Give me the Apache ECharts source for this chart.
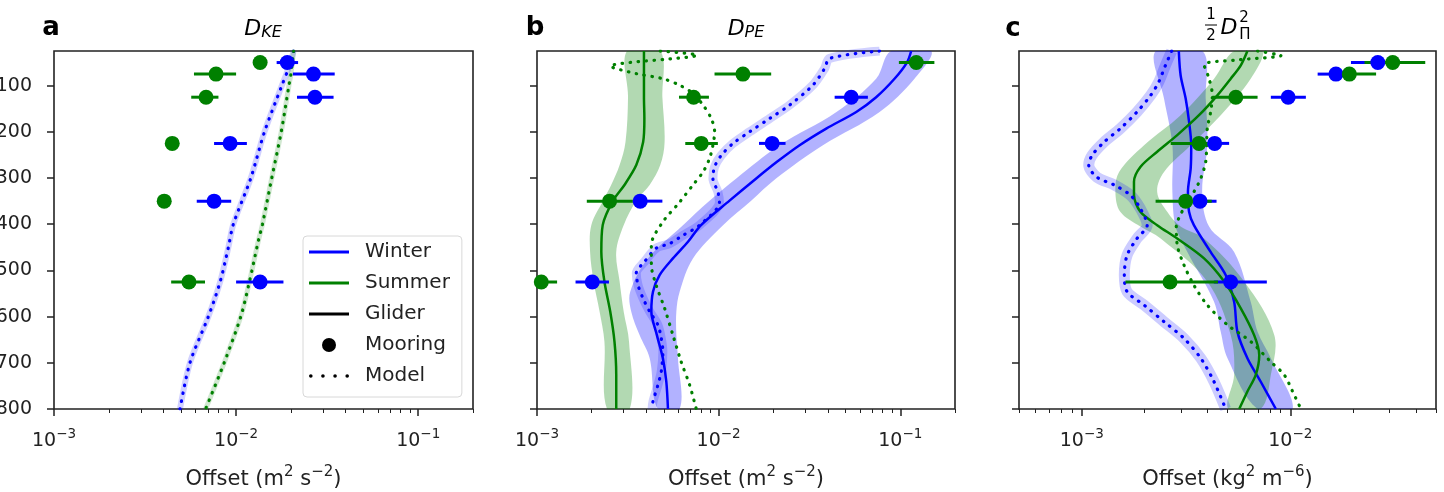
<!DOCTYPE html>
<html>
<head>
<meta charset="utf-8">
<title>Offset profiles</title>
<script src="https://cdn.jsdelivr.net/npm/echarts@6/dist/echarts.min.js"></script>
<style>
    html, body { margin: 0; background: #fff; }
    #main { width: 1444px; height: 492px; }
</style>
</head>
<body>
<div id="main"></div>
<script type="text/javascript">
var BLUE = '#0000ff', GREEN = '#008000', INK = '#222';
var FONT = 'DejaVu Sans';

// axes
var depthTicks = [100, 200, 300, 400, 500, 600, 700, 800];
var majorTicksAB = [0.001, 0.01, 0.1];
var minorTicksAB = [0.002, 0.003, 0.004, 0.005, 0.006, 0.007, 0.008, 0.009,
                    0.02, 0.03, 0.04, 0.05, 0.06, 0.07, 0.08, 0.09, 0.2];
var majorTicksC = [0.001, 0.01];
var minorTicksC = [0.0005, 0.0006, 0.0007, 0.0008, 0.0009,
                   0.002, 0.003, 0.004, 0.005, 0.006, 0.007, 0.008, 0.009,
                   0.02, 0.03, 0.04, 0.05];
var axisNames = ['Offset (m{sup|2} s{sup|\u22122})', 'Offset (m{sup|2} s{sup|\u22122})', 'Offset (kg{sup|2} m{sup|\u22126})'];
var legendNames = ['Winter', 'Summer', 'Glider', 'Mooring', 'Model'];

// mooring depths (m)
var mooringDepth = [50, 75, 125, 225, 350, 525];

// ---- panel a : D_KE ----
var aWinterMooring   = [0.0191, 0.0266, 0.0271, 0.00927, 0.00757, 0.01355];
var aWinterMooringLo = [0.0167, 0.0205, 0.0216, 0.00757, 0.00608, 0.0100];
var aWinterMooringHi = [0.0219, 0.0348, 0.0343, 0.01146, 0.0094, 0.0182];
var aSummerMooring   = [0.01355, 0.00776, 0.00684, 0.00446, 0.00403, 0.00551];
var aSummerMooringLo = [0.0133, 0.00587, 0.00567, 0.0044, 0.00398, 0.0044];
var aSummerMooringHi = [0.0138, 0.0100, 0.0080, 0.00452, 0.00408, 0.00675];
var aWinterModelDepth = [25, 60, 100, 200, 300, 400, 450, 525, 600, 700, 800];
var aWinterModel      = [0.0207, 0.0195, 0.01783, 0.01432, 0.01205, 0.00966, 0.00907, 0.00817, 0.00704, 0.00558, 0.00492];
var aSummerModelDepth = [25, 75, 100, 200, 300, 400, 435, 525, 600, 700, 800];
var aSummerModel      = [0.0207, 0.0200, 0.0195, 0.0177, 0.0157, 0.01396, 0.01327, 0.01183, 0.01061, 0.0086, 0.0068];

// ---- panel b : D_PE ----
var bWinterMooringDepth = [125, 225, 350, 525];
var bWinterMooring   = [0.0537, 0.0197, 0.0037, 0.002015];
var bWinterMooringLo = [0.0435, 0.01667, 0.00337, 0.00163];
var bWinterMooringHi = [0.0663, 0.02335, 0.0049, 0.00249];
var bSummerMooring   = [0.1224, 0.0136, 0.00728, 0.00802, 0.00251, 0.001056];
var bSummerMooringLo = [0.0982, 0.00949, 0.00605, 0.00655, 0.00188, 0.00085];
var bSummerMooringHi = [0.154, 0.01946, 0.00884, 0.0099, 0.00337, 0.00129];
var bWinterGliderDepth = [25, 50, 85, 125, 157, 193, 229, 265, 301, 349, 402, 438, 474, 510, 546, 589, 640, 690, 741, 800];
var bWinterGlider      = [0.1148, 0.1087, 0.0929, 0.0736, 0.0572, 0.0391, 0.0279, 0.02094, 0.0161, 0.01148, 0.0080,
                          0.00678, 0.0056, 0.00473, 0.00435, 0.00426, 0.00457, 0.00493, 0.00515, 0.00526];
var bWinterBandDepth = [25, 85, 157, 229, 301, 349, 402, 474, 546, 589, 640, 690, 800];
var bWinterBandLo    = [0.0891, 0.0736, 0.0445, 0.0216, 0.0125, 0.00891, 0.00636, 0.00408, 0.00326, 0.0033, 0.00367, 0.00417, 0.00463];
var bWinterBandHi    = [0.148, 0.1197, 0.0769, 0.0375, 0.0207, 0.0151, 0.01057, 0.00722, 0.0061, 0.00585, 0.00585, 0.00597, 0.0061];
var bSummerGliderDepth = [25, 75, 125, 171, 222, 272, 315, 349, 402, 460, 524, 589, 654, 726, 800];
var bSummerGlider      = [0.00388, 0.00388, 0.00388, 0.0039, 0.00384, 0.00352, 0.00303, 0.00262, 0.0023, 0.00226,
                          0.00235, 0.00253, 0.00267, 0.00273, 0.00273];
var bSummerBandDepth = [25, 125, 222, 272, 315, 349, 402, 460, 524, 589, 654, 800];
var bSummerBandLo    = [0.00313, 0.00317, 0.00307, 0.00285, 0.00256, 0.00231, 0.00199, 0.00196, 0.00205, 0.00221, 0.00235, 0.00243];
var bSummerBandHi    = [0.00477, 0.0049, 0.00504, 0.00477, 0.00417, 0.00352, 0.003, 0.00273, 0.00285, 0.003, 0.00321, 0.00324];
var bWinterModelDepth = [25, 41, 63, 99, 142, 171, 200, 225, 251, 276, 301, 330, 352, 402, 424, 442, 452, 481, 506,
                         532, 560, 589, 618, 647, 676, 719, 748, 784, 800];
var bWinterModel      = [0.0769, 0.0408, 0.0383, 0.033, 0.0246, 0.0191, 0.0148, 0.012, 0.01033, 0.00949, 0.0093, 0.0099,
                         0.0101, 0.00785, 0.00636, 0.00537, 0.00453, 0.00391, 0.00352, 0.0036, 0.00383, 0.00417, 0.00463,
                         0.00483, 0.00493, 0.00483, 0.00463, 0.00435, 0.0043];
var bSummerModelDepth = [25, 34, 58, 74, 85, 99, 117, 142, 171, 200, 229, 258, 287, 315, 352, 395, 445, 488, 532, 582,
                         640, 698, 748, 800];
var bSummerModel      = [0.00477, 0.0076, 0.00253, 0.00352, 0.00493, 0.0061, 0.00722, 0.0082, 0.0091, 0.0095, 0.0093,
                         0.0089, 0.0082, 0.00722, 0.0061, 0.00493, 0.00426, 0.00426, 0.00453, 0.00504, 0.0056, 0.00622,
                         0.00692, 0.00753];

// ---- panel c : 1/2 D_Pi^2 ----
var cWinterMooring   = [0.0263, 0.01656, 0.00977, 0.00434, 0.00369, 0.00518];
var cWinterMooringLo = [0.01955, 0.01353, 0.00807, 0.0037, 0.0031, 0.0043];
var cWinterMooringHi = [0.030, 0.019, 0.01188, 0.00509, 0.00443, 0.00772];
var cSummerMooring   = [0.031, 0.0192, 0.00548, 0.00365, 0.00315, 0.00265];
var cSummerMooringLo = [0.0227, 0.01567, 0.00423, 0.00267, 0.00226, 0.00162];
var cSummerMooringHi = [0.0444, 0.0258, 0.00697, 0.0047, 0.0042, 0.0045];
var cWinterGliderDepth = [25, 78, 128, 178, 229, 279, 330, 373, 402, 460, 510, 568, 633, 690, 741, 800];
var cWinterGlider      = [0.00292, 0.00298, 0.00315, 0.00327, 0.00335, 0.00333, 0.00323, 0.00327, 0.00345, 0.00415,
                          0.0049, 0.00538, 0.00558, 0.00623, 0.00722, 0.00853];
var cWinterBandDepth = [25, 128, 229, 330, 405, 460, 568, 633, 690, 800];
var cWinterBandLo    = [0.00226, 0.00248, 0.00272, 0.00272, 0.00282, 0.00321, 0.00431, 0.00464, 0.005, 0.00697];
var cWinterBandHi    = [0.00379, 0.00393, 0.004, 0.00378, 0.00408, 0.00538, 0.00646, 0.00697, 0.00807, 0.01026];
var cSummerGliderDepth = [25, 56, 85, 121, 164, 207, 243, 276, 308, 337, 373, 402, 431, 474, 524, 582, 640, 683, 726, 762, 800];
var cSummerGlider      = [0.00623, 0.00579, 0.00518, 0.00447, 0.00365, 0.00287, 0.0023, 0.00191, 0.00178, 0.00178, 0.00191,
                          0.0023, 0.00287, 0.00386, 0.00482, 0.00579, 0.00671, 0.0071, 0.00683, 0.00623, 0.00569];
var cSummerBandDepth = [25, 85, 164, 229, 287, 330, 373, 405, 431, 524, 640, 726, 800];
var cSummerBandLo    = [0.00538, 0.00431, 0.00298, 0.00199, 0.00151, 0.00145, 0.00153, 0.00191, 0.00239, 0.004, 0.00518, 0.00538, 0.00505];
var cSummerBandHi    = [0.00736, 0.00646, 0.00464, 0.00333, 0.00248, 0.0023, 0.00257, 0.00298, 0.00386, 0.00601, 0.00838, 0.00807, 0.0072];
var cWinterModelDepth = [25, 56, 92, 121, 157, 193, 222, 251, 272, 298, 315, 337, 366, 402, 431, 467, 510, 546, 575,
                         611, 647, 690, 741, 800];
var cWinterModel      = [0.0027, 0.00252, 0.00234, 0.00214, 0.00184, 0.00153, 0.00128, 0.00112, 0.00108, 0.00118, 0.00143,
                         0.00171, 0.00191, 0.00206, 0.00184, 0.00165, 0.0016, 0.00165, 0.00199, 0.00248, 0.00309, 0.00372,
                         0.00431, 0.0049];
var cSummerModelDepth = [25, 35, 45, 55, 85, 121, 157, 193, 229, 265, 301, 330, 358, 387, 402, 445, 488, 532, 575, 618,
                         654, 698, 726, 762, 800];
var cSummerModel      = [0.00697, 0.00902, 0.00538, 0.00386, 0.00408, 0.00423, 0.00415, 0.004, 0.00397, 0.00393, 0.00372,
                         0.00345, 0.00315, 0.00292, 0.00284, 0.00287, 0.00309, 0.00345, 0.004, 0.005, 0.00646, 0.00807,
                         0.00935, 0.01026, 0.01125];

// ---- layout ----
var grids = [
    {left: 54, top: 51, width: 419, height: 358},
    {left: 537, top: 51, width: 418, height: 358},
    {left: 1019, top: 51, width: 417, height: 358}
];
var xRanges = [[0.001, 0.2], [0.001, 0.2], [0.0005, 0.05]];

function expLabel(v) {
    var e = Math.round(Math.log(v) / Math.LN10);
    return '10{sup|' + (e < 0 ? '\u2212' : '') + Math.abs(e) + '}';
}

var xAxes = [], yAxes = [];
grids.forEach(function (g, i) {
    var majors = i < 2 ? majorTicksAB : majorTicksC;
    var minors = i < 2 ? minorTicksAB : minorTicksC;
    xAxes.push({
        gridIndex: i, type: 'log', logBase: 10, min: xRanges[i][0], max: xRanges[i][1], position: 'bottom',
        axisLine: {show: false},
        axisTick: {customValues: majors, length: 7, lineStyle: {color: INK, width: 1.5}},
        axisLabel: {
            customValues: majors, formatter: expLabel, margin: 18,
            fontFamily: FONT, fontSize: 19, color: INK,
            rich: {sup: {fontFamily: FONT, fontSize: 13.5, color: INK, padding: [0, 0, 14, 0]}}
        },
        splitLine: {show: false},
        name: axisNames[i], nameLocation: 'middle', nameGap: 56,
        nameTextStyle: {
            fontFamily: FONT, fontSize: 21, color: INK,
            rich: {sup: {fontFamily: FONT, fontSize: 15, color: INK, padding: [0, 0, 14, 0]}}
        }
    });
    xAxes.push({
        gridIndex: i, type: 'log', logBase: 10, min: xRanges[i][0], max: xRanges[i][1], position: 'bottom',
        axisLine: {show: false},
        axisTick: {customValues: minors, length: 4, lineStyle: {color: INK, width: 1}},
        axisLabel: {show: false, customValues: minors},
        splitLine: {show: false}
    });
    yAxes.push({
        gridIndex: i, type: 'value', inverse: true, min: 25, max: 800,
        axisLine: {show: false},
        axisTick: {customValues: depthTicks, length: 7, lineStyle: {color: INK, width: 1.5}},
        axisLabel: {show: i === 0, customValues: depthTicks, margin: 22, fontFamily: FONT, fontSize: 19, color: INK},
        splitLine: {show: false}
    });
});

function pairs(depths, values) {
    return depths.map(function (d, k) { return [values[k], d]; });
}

function lineSeries(panel, depths, values, style, z) {
    return {
        type: 'line', xAxisIndex: panel * 2, yAxisIndex: panel, data: pairs(depths, values),
        symbol: 'none', smooth: 0.3, lineStyle: style, z: z, silent: true
    };
}

function bandSeries(panel, depths, lo, hi, color) {
    return {
        type: 'custom', xAxisIndex: panel * 2, yAxisIndex: panel, clip: true, silent: true, z: 1,
        data: depths.map(function (d, k) { return [lo[k], hi[k], d]; }),
        encode: {x: [0, 1], y: 2},
        renderItem: function (params, api) {
            if (params.dataIndex !== 0) return null;
            var pts = [], k;
            for (k = 0; k < depths.length; k++) pts.push(api.coord([lo[k], depths[k]]));
            for (k = depths.length - 1; k >= 0; k--) pts.push(api.coord([hi[k], depths[k]]));
            return {type: 'polygon', shape: {points: pts, smooth: 0.35}, style: {fill: color, opacity: 0.3}};
        }
    };
}

function errorSeries(panel, depths, lo, hi, color) {
    return {
        type: 'custom', xAxisIndex: panel * 2, yAxisIndex: panel, clip: true, silent: true, z: 3,
        data: depths.map(function (d, k) { return [lo[k], hi[k], d]; }),
        encode: {x: [0, 1], y: 2},
        renderItem: function (params, api) {
            var p = api.coord([api.value(0), api.value(2)]);
            var q = api.coord([api.value(1), api.value(2)]);
            return {type: 'line', shape: {x1: p[0], y1: p[1], x2: q[0], y2: q[1]}, style: {stroke: color, lineWidth: 3}};
        }
    };
}

function dotSeries(panel, depths, values, color) {
    return {
        type: 'scatter', xAxisIndex: panel * 2, yAxisIndex: panel, data: pairs(depths, values),
        symbolSize: 15, itemStyle: {color: color, opacity: 1}, z: 4, silent: true
    };
}

function dotted(color) {
    return {color: color, width: 3.2, type: [0.5, 7.5], cap: 'round'};
}

var series = [];
// panel a
series.push(lineSeries(0, aWinterModelDepth, aWinterModel, {color: BLUE, width: 6, opacity: 0.18}, 1));
series.push(lineSeries(0, aSummerModelDepth, aSummerModel, {color: GREEN, width: 5, opacity: 0.18}, 1));
series.push(lineSeries(0, aWinterModelDepth, aWinterModel, dotted(BLUE), 2));
series.push(lineSeries(0, aSummerModelDepth, aSummerModel, dotted(GREEN), 2));
series.push(errorSeries(0, mooringDepth, aWinterMooringLo, aWinterMooringHi, BLUE));
series.push(errorSeries(0, mooringDepth, aSummerMooringLo, aSummerMooringHi, GREEN));
series.push(dotSeries(0, mooringDepth, aWinterMooring, BLUE));
series.push(dotSeries(0, mooringDepth, aSummerMooring, GREEN));
// panel b
series.push(bandSeries(1, bWinterBandDepth, bWinterBandLo, bWinterBandHi, BLUE));
series.push(bandSeries(1, bSummerBandDepth, bSummerBandLo, bSummerBandHi, GREEN));
series.push(lineSeries(1, bWinterModelDepth, bWinterModel, {color: BLUE, width: 9, opacity: 0.18}, 1));
series.push(lineSeries(1, bWinterGliderDepth, bWinterGlider, {color: BLUE, width: 2.5}, 2));
series.push(lineSeries(1, bSummerGliderDepth, bSummerGlider, {color: GREEN, width: 2.5}, 2));
series.push(lineSeries(1, bWinterModelDepth, bWinterModel, dotted(BLUE), 2));
series.push(lineSeries(1, bSummerModelDepth, bSummerModel, dotted(GREEN), 2));
series.push(errorSeries(1, bWinterMooringDepth, bWinterMooringLo, bWinterMooringHi, BLUE));
series.push(errorSeries(1, mooringDepth, bSummerMooringLo, bSummerMooringHi, GREEN));
series.push(dotSeries(1, bWinterMooringDepth, bWinterMooring, BLUE));
series.push(dotSeries(1, mooringDepth, bSummerMooring, GREEN));
// panel c
series.push(bandSeries(2, cWinterBandDepth, cWinterBandLo, cWinterBandHi, BLUE));
series.push(bandSeries(2, cSummerBandDepth, cSummerBandLo, cSummerBandHi, GREEN));
series.push(lineSeries(2, cWinterModelDepth, cWinterModel, {color: BLUE, width: 11, opacity: 0.2}, 1));
series.push(lineSeries(2, cWinterGliderDepth, cWinterGlider, {color: BLUE, width: 2.5}, 2));
series.push(lineSeries(2, cSummerGliderDepth, cSummerGlider, {color: GREEN, width: 2.5}, 2));
series.push(lineSeries(2, cWinterModelDepth, cWinterModel, dotted(BLUE), 2));
series.push(lineSeries(2, cSummerModelDepth, cSummerModel, dotted(GREEN), 2));
series.push(errorSeries(2, mooringDepth, cWinterMooringLo, cWinterMooringHi, BLUE));
series.push(errorSeries(2, mooringDepth, cSummerMooringLo, cSummerMooringHi, GREEN));
series.push(dotSeries(2, mooringDepth, cWinterMooring, BLUE));
series.push(dotSeries(2, mooringDepth, cSummerMooring, GREEN));

// legend-only series
var legendColors = [BLUE, GREEN, '#000', '#000', '#000'];
legendNames.forEach(function (n, k) {
    series.push({name: n, type: k === 3 ? 'scatter' : 'line', data: [], symbol: k === 3 ? 'circle' : 'none',
                 itemStyle: {color: legendColors[k], opacity: 1}, lineStyle: {color: legendColors[k], width: 2.5}});
});
var LINE_ICON = 'path://M0,0H32V2.4H0Z';
var DOTS_ICON = 'path://M0,1.75a1.75,1.75 0 1,0 3.5,0a1.75,1.75 0 1,0 -3.5,0Z' +
                'M11.7,1.75a1.75,1.75 0 1,0 3.5,0a1.75,1.75 0 1,0 -3.5,0Z' +
                'M23.4,1.75a1.75,1.75 0 1,0 3.5,0a1.75,1.75 0 1,0 -3.5,0Z' +
                'M35.1,1.75a1.75,1.75 0 1,0 3.5,0a1.75,1.75 0 1,0 -3.5,0Z';
var legendIcons = [LINE_ICON, LINE_ICON, LINE_ICON, 'circle', DOTS_ICON];

function titleText(x, y, text, rich, font) {
    return {
        type: 'text', x: x, y: y, z: 10, silent: true,
        style: {text: text, rich: rich, fill: '#000', font: font || '22px "DejaVu Sans"',
                align: 'center', verticalAlign: 'middle', textAlign: 'center', textVerticalAlign: 'middle'}
    };
}
function letter(x, y, t) {
    return titleText(x, y, t, null, 'bold 26px "DejaVu Sans"');
}
var subRich = {
    d: {fontFamily: FONT, fontStyle: 'italic', fontSize: 22, color: '#000'},
    s: {fontFamily: FONT, fontStyle: 'italic', fontSize: 16, color: '#000', padding: [8, 0, 0, 0]}
};
var SMALL = '15px "DejaVu Sans"';

var graphics = [
    letter(51, 28, 'a'), letter(535, 28, 'b'), letter(1013, 29, 'c'),
    titleText(263, 29, '{d|D}{s|KE}', subRich),
    titleText(746, 29, '{d|D}{s|PE}', subRich),
    titleText(1211, 15, '1', null, SMALL),
    titleText(1211, 36, '2', null, SMALL),
    {type: 'line', silent: true, z: 10, shape: {x1: 1205, y1: 25, x2: 1217, y2: 25}, style: {stroke: '#000', lineWidth: 1}},
    titleText(1229, 28, '{d|D}', subRich),
    titleText(1244, 18, '2', null, SMALL),
    titleText(1245, 35, '\u03a0', null, SMALL)
];

var option = {
    animation: false,
    backgroundColor: '#fff',
    grid: grids.map(function (g) {
        return {left: g.left, top: g.top, width: g.width, height: g.height, show: true,
                borderColor: INK, borderWidth: 1.6, backgroundColor: 'transparent',
                containLabel: false, outerBoundsMode: 'none'};
    }),
    xAxis: xAxes,
    yAxis: yAxes,
    legend: {
        orient: 'vertical', left: 303, top: 236,
        itemWidth: 40, itemHeight: 14, itemGap: 11,
        padding: [6, 12, 11, 6],
        borderColor: '#d8d8d8', borderWidth: 1, borderRadius: 4, backgroundColor: 'rgba(255,255,255,0.8)',
        textStyle: {fontFamily: FONT, fontSize: 20, color: INK, padding: [0, 0, 0, 11]},
        selectedMode: false,
        data: legendNames.map(function (n, k) { return {name: n, icon: legendIcons[k]}; })
    },
    graphic: graphics,
    series: series
};

var myChart = echarts.init(document.getElementById('main'));
myChart.setOption(option);
</script>
</body>
</html>
